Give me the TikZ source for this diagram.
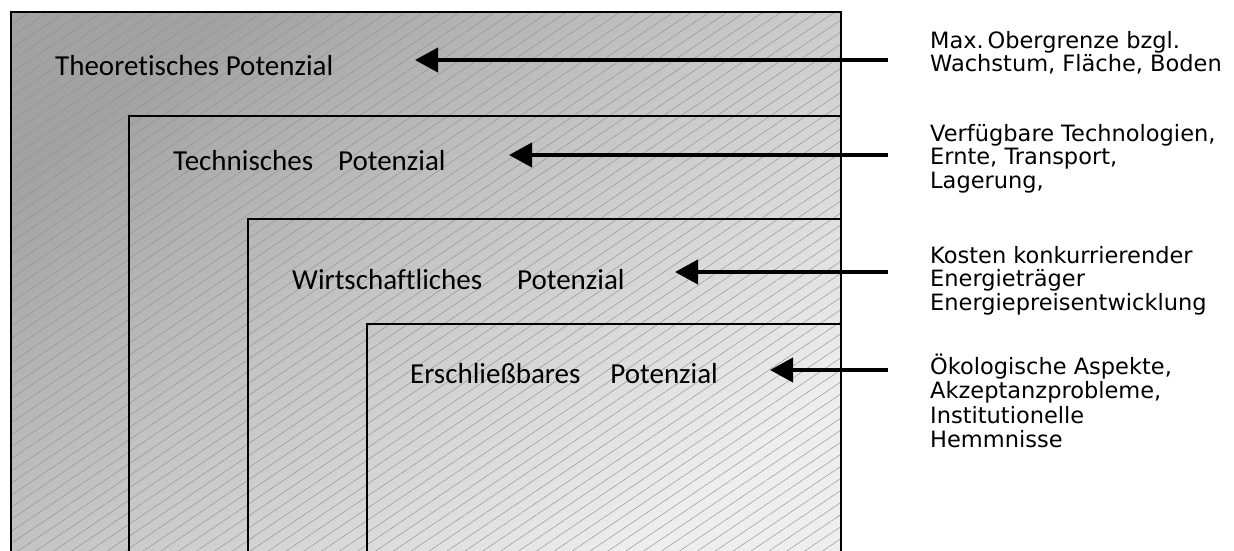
\documentclass[tikz,border=0pt]{standalone}
\usepackage{fontspec}
\newfontfamily\calibri[Ligatures=NoCommon]{Carlito}
\newfontfamily\lucida{DejaVu Sans}
\usetikzlibrary{positioning, arrows.meta, patterns.meta}
\definecolor{shadedark}{HTML}{A2A2A2}
\definecolor{shadelight}{HTML}{EEEEEE}
\definecolor{hatch}{HTML}{929292}

\begin{document}
\begin{tikzpicture}[x=1pt, y=-1pt,
  potlabel/.style={anchor=base west, inner sep=0pt,
                   font=\calibri\fontsize{29}{34}\selectfont},
  desc/.style={anchor=base west, inner sep=0pt, align=left,
               font=\lucida\fontsize{22.5}{23.5}\selectfont},
  pointer/.style={line width=4pt, -{Triangle[length=23pt, width=24pt]}},
  frame/.style={draw=black, line width=1.3pt},
]
\useasboundingbox (0,0) rectangle (1234,551);
\clip (0,0) rectangle (1234,551);

% shaded and hatched area
\shade[top color=shadedark, bottom color=shadelight, shading angle=38]
  (11,12) rectangle (841,560);
\fill[pattern={Lines[angle=34, distance=10pt, line width=0.45pt]}, pattern color=hatch]
  (11,12) rectangle (841,560);

% nested frames
\draw[frame, line width=2pt] (11,560) -- (11,12) -- (841,12) -- (841,560);
\draw[frame] (129,560) |- (841,116);
\draw[frame] (248,560) |- (841,219);
\draw[frame] (367,560) |- (841,324);

% potential labels
\node[potlabel] (theo) at (55,75) {Theoretisches Potenzial};
\node[potlabel] (tech) at (173,170) {Technisches\hspace{25pt}Potenzial};
\node[potlabel] (wirt) at (292,289) {Wirtschaftliches\hspace{35pt}Potenzial};
\node[potlabel] (ersch) at (410,383) {Erschließbares\hspace{30pt}Potenzial};

% descriptions (anchored at the last line)
\node[desc] (d1) at (930,72) {Max.\,Obergrenze bzgl.\\Wachstum, Fläche, Boden};
\node[desc] (d2) at (930,188) {Verfügbare Technologien,\\Ernte, Transport,\\Lagerung,};
\node[desc] (d3) at (930,310) {Kosten konkurrierender\\Energieträger\\Energiepreisentwicklung};
\node[desc] (d4) at (930,447) {Ökologische Aspekte,\\Akzeptanzprobleme,\\[2pt]Institutionelle\\Hemmnisse};

% arrows
\coordinate (s1) at (888,60);  \coordinate (e1) at (415,60);
\coordinate (s2) at (888,155); \coordinate (e2) at (509,155);
\coordinate (s3) at (888,272); \coordinate (e3) at (675,272);
\coordinate (s4) at (888,370); \coordinate (e4) at (770,370);
\foreach \i in {1,...,4}
  \draw[pointer] (s\i) -- (e\i);
\end{tikzpicture}
\end{document}
